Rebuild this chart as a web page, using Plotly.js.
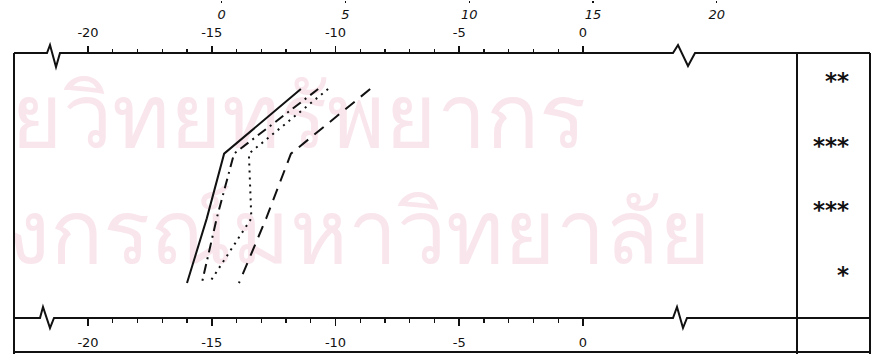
<!DOCTYPE html>
<html>
<head>
<meta charset="utf-8">
<script src="https://cdn.plot.ly/plotly-3.0.1.min.js"></script>
<style>
  html, body { margin: 0; padding: 0; background: #fff; }
  #wrap { position: relative; width: 878px; height: 354px; }
  #graph { position: absolute; left: 0; top: 0; width: 878px; height: 354px; z-index: 1; }
  .wm { position: absolute; z-index: 0; font-family: "Noto Sans", sans-serif; font-size: 88px;
        line-height: 100px; color: #f9e6ec; white-space: nowrap; }
</style>
</head>
<body>
<div id="wrap">
  <div class="wm" id="wm1" style="left: 11px; top: 63px;"></div>
  <div class="wm" id="wm2" style="left: 7px; top: 179px;"></div>
  <div id="graph"></div>
</div>
<script>
// rows from top to bottom
const levels = [1, 2, 3, 4];

// x value of each series at each row
const solidX   = [-11.4, -14.5, -15.2, -16.0];
const dashDotX = [-10.7, -14.1, -14.8, -15.4];
const dottedX  = [-10.3, -13.5, -13.4, -15.1];
const dashedX  = [-8.6, -11.8, -12.8, -13.9];

// significance marks per row
const stars = ["**", "***", "***", "*"];

// tick labels
const tickVals = [-20, -15, -10, -5, 0];
const tickText = ["-20", "-15", "-10", "-5", "0"];
const minorVals = [-19, -18, -17, -16, -14, -13, -12, -11, -9, -8, -7, -6, -4, -3, -2, -1];
const upperTickVals = [0, 5, 10, 15, 20];

// watermark text of the scanned page (sits behind the chart)
const watermark = ["ยวิทยทรัพยากร", "งกรณ์มหาวิทยาลัย"];
document.getElementById("wm1").textContent = watermark[0];
document.getElementById("wm2").textContent = watermark[1];

// page pixel -> paper helpers (plot area spans the whole height)
const W = 878, H = 354, L = 14, R = 8;
function X(px) { return (px - L) / (W - L - R); }
function Y(py) { return (H - py) / H; }

// x scale: 0 at 583px, 24.75px per unit
const xRange = [(L - 583) / 24.75, (W - R - 583) / 24.75];
const upperShift = 14.6;

function line(xs, dash) {
    return {
        x: xs,
        y: levels,
        mode: "lines",
        type: "scatter",
        line: { color: "#111", width: 2, dash: dash },
        hoverinfo: "skip"
    };
}

let traces = [
    line(solidX, "solid"),
    line(dashDotX, "10px,5px,2px,5px"),
    line(dottedX, "2px,5px"),
    line(dashedX, "12px,8px")
];

// axis lines with break marks, box edges
function path(points) {
    return points.map((p, i) => (i ? "L" : "M") + X(p[0]) + "," + Y(p[1])).join(" ");
}
let shapeLine = { color: "#111", width: 2 };
let shapes = [
    { type: "path", xref: "paper", yref: "paper", line: shapeLine,
      path: path([[14, 53], [47, 53], [50, 45], [56, 67], [60, 53], [673, 53], [678, 45], [688, 66], [695, 53], [870, 53]]) },
    { type: "path", xref: "paper", yref: "paper", line: shapeLine,
      path: path([[14, 318], [40, 318], [43, 307], [50, 328], [54, 318], [673, 318], [677, 307], [683, 328], [687, 318], [870, 318]]) },
    { type: "path", xref: "paper", yref: "paper", line: shapeLine, path: path([[14, 53], [14, 354]]) },
    { type: "path", xref: "paper", yref: "paper", line: shapeLine, path: path([[797, 53], [797, 354]]) },
    { type: "path", xref: "paper", yref: "paper", line: shapeLine, path: path([[870, 53], [870, 354]]) },
    { type: "path", xref: "paper", yref: "paper", line: shapeLine, path: path([[14, 352], [870, 352]]) }
];

let annotations = stars.map((s, i) => ({
    xref: "paper", yref: "y",
    x: X(851), y: levels[i],
    xanchor: "right", yanchor: "middle",
    yshift: 8,
    text: "<b>" + s + "</b>",
    showarrow: false,
    font: { family: "DejaVu Sans", size: 23, color: "#111" }
}));

let tickFont = { family: "DejaVu Sans", size: 13, color: "#111" };

let layout = {
    width: W,
    height: H,
    margin: { l: L, r: R, t: 0, b: 0 },
    paper_bgcolor: "rgba(0,0,0,0)",
    plot_bgcolor: "rgba(0,0,0,0)",
    showlegend: false,
    font: tickFont,
    xaxis: {
        range: xRange, anchor: "y", side: "bottom",
        showline: false, zeroline: false, showgrid: false,
        tickmode: "array", tickvals: tickVals, ticktext: tickText,
        ticks: "outside", ticklen: 7, tickwidth: 1.6, tickcolor: "#111",
        ticklabelstandoff: 5,
        minor: { tickmode: "array", tickvals: minorVals, ticks: "outside", ticklen: 4, tickwidth: 1.3, tickcolor: "#111", showgrid: false },
        tickfont: tickFont
    },
    xaxis2: {
        range: xRange, overlaying: "x", anchor: "y", side: "top",
        showline: false, zeroline: false, showgrid: false,
        tickmode: "array", tickvals: tickVals, ticktext: tickText,
        ticks: "outside", ticklen: 6, tickwidth: 1.6, tickcolor: "#111",
        ticklabelstandoff: 4,
        minor: { tickmode: "array", tickvals: minorVals, ticks: "outside", ticklen: 3, tickwidth: 1.3, tickcolor: "#111", showgrid: false },
        tickfont: tickFont
    },
    xaxis3: {
        range: [xRange[0] + upperShift, xRange[1] + upperShift],
        overlaying: "x", anchor: "free", position: 1, side: "bottom",
        showline: false, zeroline: false, showgrid: false,
        tickmode: "array", tickvals: upperTickVals,
        ticks: "outside", ticklen: 2, tickwidth: 1.3, tickcolor: "#111",
        tickfont: { family: "DejaVu Sans", size: 13, color: "#111", style: "italic" }
    },
    yaxis: {
        domain: [Y(318), Y(53)],
        range: [4.541, 0.443],
        showline: false, zeroline: false, showgrid: false,
        showticklabels: false, ticks: ""
    },
    shapes: shapes,
    annotations: annotations
};

// empty traces so the extra x axes are drawn
traces.push({ x: [], y: [], xaxis: "x2", type: "scatter", hoverinfo: "skip" });
traces.push({ x: [], y: [], xaxis: "x3", type: "scatter", hoverinfo: "skip" });

Plotly.newPlot("graph", traces, layout, { staticPlot: true });
</script>
</body>
</html>
